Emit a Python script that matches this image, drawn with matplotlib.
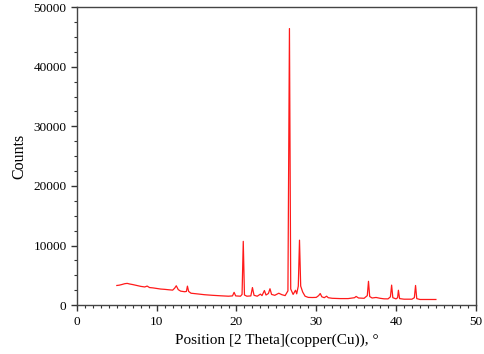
import matplotlib
matplotlib.use('Agg')
import matplotlib.pyplot as plt
from matplotlib.ticker import MultipleLocator

# XRD pattern (2 theta, counts)
two_theta = [5.0, 5.3, 5.6, 6.0, 6.3, 6.6, 7.0, 7.5, 8.0, 8.5, 8.8, 9.1, 9.5, 10.0,
             10.5, 11.0, 11.5, 12.0, 12.25, 12.45, 12.7, 13.0, 13.5, 13.72, 13.85, 14.0,
             14.3, 15.0, 16.0, 17.0, 18.0, 19.0, 19.5, 19.7, 19.9, 20.5, 20.7, 20.85,
             21.0, 21.3, 21.8, 22.0, 22.2, 22.6, 23.0, 23.2, 23.5, 23.7, 24.0, 24.2,
             24.4, 24.8, 25.3, 25.7, 26.1, 26.45, 26.64, 26.8, 27.1, 27.4, 27.55, 27.75,
             27.9, 28.05, 28.3, 28.6, 29.0, 29.5, 30.0, 30.3, 30.5, 30.7, 31.0, 31.3,
             31.5, 32.0, 33.0, 34.0, 34.8, 35.0, 35.3, 36.0, 36.4, 36.55, 36.7, 37.0,
             37.5, 38.0, 38.5, 39.0, 39.3, 39.45, 39.6, 40.0, 40.2, 40.3, 40.45, 41.0,
             42.0, 42.3, 42.45, 42.6, 43.0, 44.0, 45.0]
counts = [3300, 3350, 3450, 3600, 3650, 3550, 3450, 3300, 3150, 3050, 3200, 2950, 2900, 2800,
          2700, 2650, 2580, 2520, 2850, 3250, 2600, 2350, 2250, 2300, 3190, 2300,
          2000, 1900, 1750, 1650, 1570, 1500, 1550, 2150, 1550, 1500, 1800, 10700,
          1700, 1500, 1550, 2950, 1650, 1500, 1850, 1600, 2450, 1700, 1950, 2750,
          1800, 1650, 2000, 1750, 1600, 2400, 46400, 2700, 1800, 2500, 1900, 3200,
          10900, 3200, 2200, 1500, 1300, 1280, 1300, 1600, 1950, 1400, 1250, 1500,
          1250, 1150, 1100, 1100, 1250, 1460, 1200, 1150, 1600, 4000, 1450, 1200,
          1290, 1150, 1060, 1050, 1400, 3360, 1250, 1050, 1250, 2500, 1100, 1000,
          1000, 1250, 3300, 1100, 950, 950, 950]

plt.rcParams['font.family'] = ['Liberation Serif', 'DejaVu Serif']

fig = plt.figure(figsize=(4.84, 3.54), dpi=100)
ax = fig.add_axes([0.159, 0.138, 0.824, 0.842])

ax.plot(two_theta, counts, color='#ff1a1a', linewidth=0.9)

ax.set_xlim(0, 50)
ax.set_ylim(0, 50000)
ax.xaxis.set_major_locator(MultipleLocator(10))
ax.xaxis.set_minor_locator(MultipleLocator(1))
ax.yaxis.set_major_locator(MultipleLocator(10000))
ax.yaxis.set_minor_locator(MultipleLocator(2500))
ax.tick_params(which='major', length=4, width=1, color='#333333', labelsize=9.5)
ax.tick_params(which='minor', length=2.5, width=0.8, color='#333333')
for s in ax.spines.values():
    s.set_color('#444444')
    s.set_linewidth(1)

ax.set_xlabel('Position [2 Theta](copper(Cu)), °', fontsize=11)
ax.set_ylabel('Counts', fontsize=11.5)

fig.savefig('out.png', dpi=100)
